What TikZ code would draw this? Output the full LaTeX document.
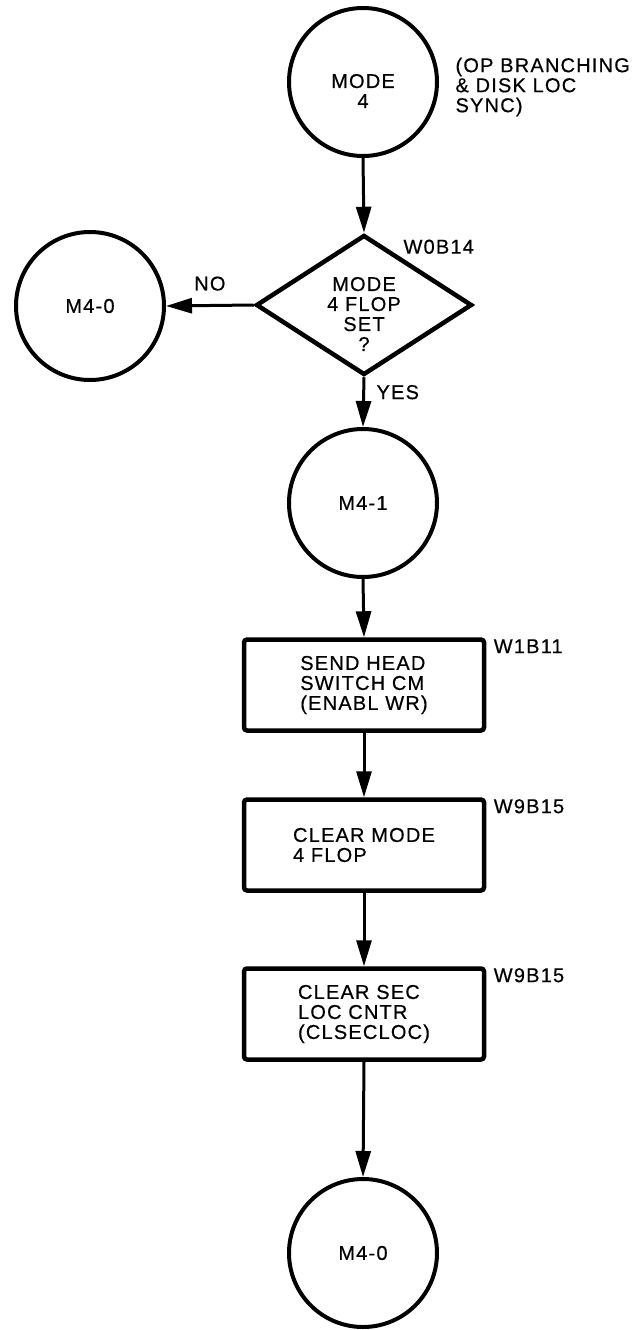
\documentclass[tikz,border=0pt]{standalone}
\usepackage{fontspec}
\setmainfont{Liberation Sans}[LetterSpace=6.0, FakeBold=0.5]
\usetikzlibrary{arrows.meta, shapes.geometric}

\begin{document}
\begin{tikzpicture}[x=1pt, y=-1pt, font=\fontsize{20}{20}\selectfont,
    conn/.style={line width=3pt, -{Triangle[length=26pt, width=15pt]}},
    term/.style={draw, circle, line width=4pt, minimum size=148pt, inner sep=0pt},
    decision/.style={draw, diamond, line width=4.5pt, minimum width=216pt, minimum height=140pt, inner sep=0pt},
    stepbox/.style={draw, rectangle, rounded corners=3pt, line width=4.5pt, minimum width=240pt, minimum height=91pt, align=left},
    ref/.style={anchor=west}]
        \fill[white] (0,0) rectangle (643,1330);

        % Mode 4 entry
        \node[term] (mode4) at (363,82) {};
        \node[align=center] (mode4txt) at (363,91) {MODE\\4};
        \node[anchor=west, align=left] (note) at (452,87) {(OP BRANCHING\\\& DISK LOC\\SYNC)};

        % Decision
        \node[decision] (flop) at (364,305) {};
        \node[align=center] (floptxt) at (364,314) {MODE\\4 FLOP\\SET\\?};
        \node[ref] (w0b14) at ([xshift=36pt, yshift=-14pt]flop.north) {W0B14};

        % Branches
        \node[term] (m40a) at (90,306) {M4-0};
        \node[term] (m41) at (363,503) {M4-1};

        % Steps
        \node[stepbox] (send) at (364,685) {SEND HEAD\\SWITCH CM\\(ENABL WR)};
        \node[ref] (w1b11) at ([xshift=4pt, yshift=-9pt]send.north east) {W1B11};
        \node[stepbox] (clrmode) at (364,845) {CLEAR MODE\\4 FLOP};
        \node[ref] (w9b15a) at ([xshift=4pt, yshift=-9pt]clrmode.north east) {W9B15};
        \node[stepbox] (clrsec) at (364,1014) {CLEAR SEC\\LOC CNTR\\(CLSECLOC)};
        \node[ref] (w9b15b) at ([xshift=4pt, yshift=-9pt]clrsec.north east) {W9B15};

        % Exit
        \node[term] (m40b) at (363,1253) {M4-0};

        % Flow
        \draw[conn] (mode4.south) -- (flop.north);
        \draw[conn] (flop.west) -- (m40a.east) node[midway, above=10pt] {NO};
        \draw[conn] (flop.south) -- (m41.north) node[pos=0.3, right=8pt] {YES};
        \draw[conn] (m41.south) -- (send.north);
        \draw[conn] (send.south) -- (clrmode.north);
        \draw[conn] (clrmode.south) -- (clrsec.north);
        \draw[conn] (clrsec.south) -- (m40b.north);
    \end{tikzpicture}
\end{document}
